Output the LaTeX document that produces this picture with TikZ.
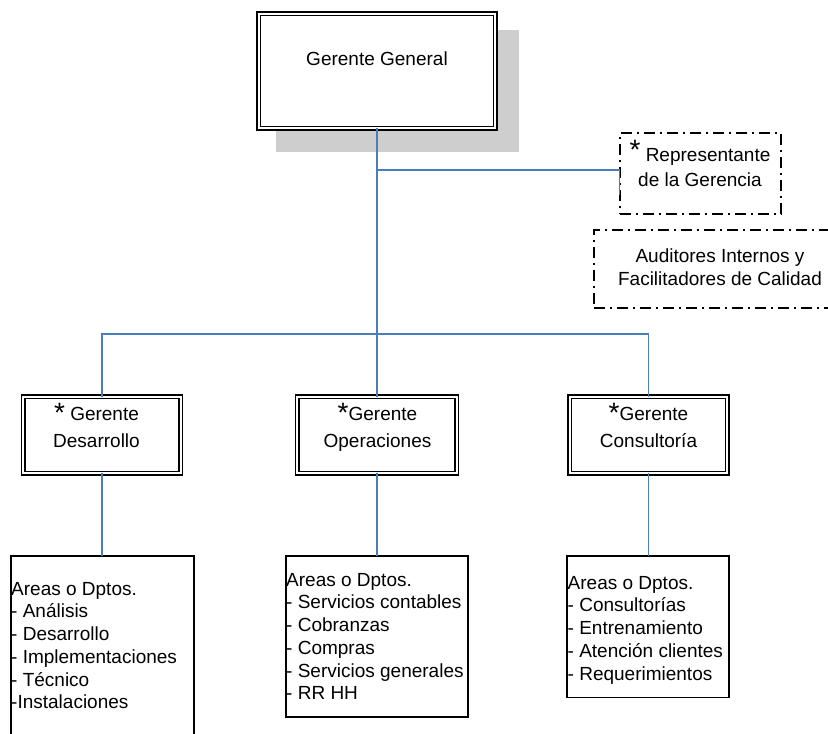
\documentclass[tikz,border=0pt]{standalone}
\usepackage{fontspec}
\setmainfont{Liberation Sans}
\definecolor{connblue}{RGB}{74,126,187}
\definecolor{shadowgray}{RGB}{206,206,206}
\newcommand{\bigstar}[2]{\raisebox{#2pt}{\fontsize{#1}{#1}\selectfont *}}
\begin{document}
\begin{tikzpicture}[x=1pt,y=-1pt,
  dblbox/.style={draw, double, double distance=2pt, line width=1.5pt, fill=white,
    inner sep=0pt, outer sep=0pt},
  dashdotbox/.style={draw, line width=1.4pt, dash pattern=on 11pt off 5pt on 2pt off 5pt,
    inner sep=0pt, outer sep=0pt},
  plainbox/.style={draw, line width=1.4pt, inner sep=0pt, outer sep=0pt},
  conn/.style={draw=connblue, line width=1.5pt},
  txt/.style={font=\fontsize{19}{23}\selectfont, align=center, inner sep=0pt},
  lst/.style={font=\fontsize{19}{22.7}\selectfont, align=left, inner sep=0pt, anchor=north west},
]
\useasboundingbox (0,0) rectangle (828,734);
\clip (0,0) rectangle (828,734);

% shadow of the top box
\fill[shadowgray] (276,30) rectangle (519,152);

% boxes (double border)
\node[dblbox, minimum width=236.8pt, minimum height=114.8pt] (gg) at (377,71) {};
\node[dblbox, minimum width=157.8pt, minimum height=76.8pt] (gd) at (102,435) {};
\node[dblbox, minimum width=159.8pt, minimum height=76.8pt] (go) at (377,435) {};
\node[dblbox, minimum width=157.8pt, minimum height=76.8pt] (gc) at (648.5,435) {};

% dash-dotted boxes
\node[dashdotbox, minimum width=161pt, minimum height=81pt] (rep) at (700.5,173.5) {};
\node[dashdotbox, minimum width=240pt, minimum height=78pt] (aud) at (714,269) {};

% department boxes
\node[plainbox, minimum width=183pt, minimum height=190pt] (ad) at (102.5,651) {};
\node[plainbox, minimum width=182pt, minimum height=161pt] (ao) at (377,636.5) {};
\node[plainbox, minimum width=162pt, minimum height=141.5pt] (ac) at (648,626.8) {};

% connectors
\coordinate (j1) at (377,170);
\coordinate (j2) at (377,334);
\coordinate (repend) at (619.5,195);
\draw[conn] (gg.south) -- (go.north);
\draw[conn] (j1) -- (j1 -| repend) -- (repend);
\draw[conn] (gd.north) -- (gd.north |- j2) -- (gc.north |- j2) -- (gc.north);
\draw[conn] (gd.south) -- (gd.south |- ad.north);
\draw[conn] (go.south) -- (go.south |- ao.north);
\draw[conn] (gc.south) -- (gc.south |- ac.north);

% texts
\node[txt] (ggt) at (377,59) {Gerente General};
\node[txt, anchor=north, font=\fontsize{19}{25}\selectfont] (rept) at (700,140)
  {\bigstar{28}{2} Representante\\de la Gerencia};
\node[txt, anchor=north] (audt) at (720,249) {Auditores Internos y\\Facilitadores de Calidad};
\node[txt, anchor=north, font=\fontsize{19}{27}\selectfont] (gdt) at (96.5,403)
  {\bigstar{28}{-2.4} Gerente\\Desarrollo};
\node[txt, anchor=north, font=\fontsize{19}{27}\selectfont] (got) at (377.5,403)
  {\bigstar{28}{-2.4}Gerente\\Operaciones};
\node[txt, anchor=north, font=\fontsize{19}{27}\selectfont] (gct) at (648.5,403)
  {\bigstar{28}{-2.4}Gerente\\Consultoría};

\node[lst] (adt) at (11,582) {Areas o Dptos.\\- Análisis\\- Desarrollo\\- Implementaciones\\- Técnico\\-Instalaciones};
\node[lst] (aot) at (286,573) {Areas o Dptos.\\- Servicios contables\\- Cobranzas\\- Compras\\- Servicios generales\\- RR HH};
\node[lst] (act) at (567.5,576) {Areas o Dptos.\\- Consultorías\\- Entrenamiento\\- Atención clientes\\- Requerimientos};
\end{tikzpicture}
\end{document}
